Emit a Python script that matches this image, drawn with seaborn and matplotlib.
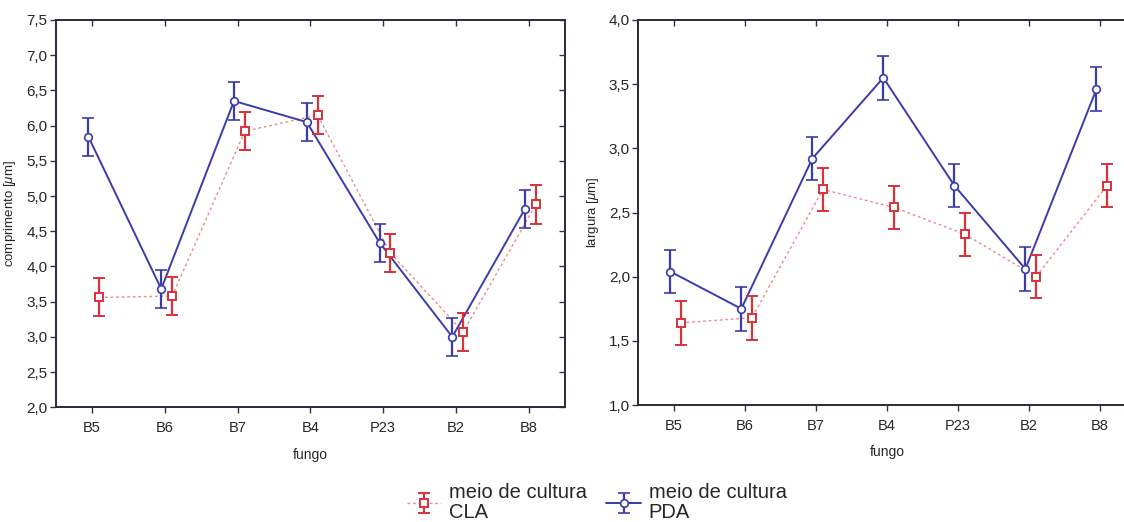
import numpy as np
import pandas as pd
import seaborn as sns
import matplotlib
matplotlib.use("Agg")
import matplotlib.pyplot as plt
from matplotlib.ticker import FuncFormatter

# ---------------- data ----------------
fungos = ["B5", "B6", "B7", "B4", "P23", "B2", "B8"]

comp_pda = [5.84, 3.68, 6.35, 6.05, 4.34, 3.00, 4.82]
comp_pda_err = [0.27, 0.27, 0.27, 0.27, 0.27, 0.27, 0.27]
comp_cla = [3.56, 3.58, 5.92, 6.15, 4.19, 3.07, 4.88]
comp_cla_err = [0.27, 0.27, 0.27, 0.27, 0.27, 0.27, 0.27]

larg_pda = [2.04, 1.75, 2.92, 3.55, 2.71, 2.06, 3.46]
larg_pda_err = [0.17, 0.17, 0.17, 0.17, 0.17, 0.17, 0.17]
larg_cla = [1.64, 1.68, 2.68, 2.54, 2.33, 2.00, 2.71]
larg_cla_err = [0.17, 0.17, 0.17, 0.17, 0.17, 0.17, 0.17]

comp_yticks = [2.0, 2.5, 3.0, 3.5, 4.0, 4.5, 5.0, 5.5, 6.0, 6.5, 7.0, 7.5]
larg_yticks = [1.0, 1.5, 2.0, 2.5, 3.0, 3.5, 4.0]

labels = ["meio de cultura\nCLA", "meio de cultura\nPDA"]

# ---------------- style ----------------
sns.set_theme(style="white")
plt.rcParams["font.family"] = ["Liberation Sans", "DejaVu Sans"]
plt.rcParams["mathtext.fontset"] = "custom"
plt.rcParams["mathtext.it"] = "Liberation Sans:italic"
plt.rcParams["mathtext.rm"] = "Liberation Sans"

BLUE = "#3b3bab"
RED = "#d8323a"
RED_LINE = "#ee8a8a"
FRAME = "#2a2a3a"

fig = plt.figure(figsize=(11.24, 5.22), dpi=100)
ax1 = fig.add_axes([0.0496, 0.2197, 0.4531, 0.7420])
ax2 = fig.add_axes([0.5679, 0.2241, 0.4423, 0.7376])

fmt = FuncFormatter(lambda v, p: f"{v:.1f}".replace(".", ","))

handles = {}


def panel(ax, pda, pda_err, cla, cla_err, yticks, ylabel):
    pos = np.arange(1, len(fungos) + 1)
    df = pd.DataFrame({
        "x": np.concatenate([pos - 0.05, pos + 0.10]),
        "y": np.concatenate([pda, cla]),
        "meio": ["PDA"] * len(fungos) + ["CLA"] * len(fungos),
    })
    dp = df[df.meio == "PDA"]
    dc = df[df.meio == "CLA"]
    # connecting lines
    sns.lineplot(data=dp, x="x", y="y", ax=ax, color=BLUE, lw=1.4,
                 estimator=None, sort=False, zorder=3, legend=False)
    sns.lineplot(data=dc, x="x", y="y", ax=ax, color=RED_LINE, lw=1.0,
                 linestyle=(0, (2, 2)), estimator=None, sort=False,
                 zorder=2, legend=False)
    # error bars + markers
    eb_c = ax.errorbar(dc.x, dc.y, yerr=cla_err, fmt="s", ms=5.5, mfc="white",
                       mec=RED, mew=1.4, ecolor=RED, elinewidth=1.6,
                       capsize=4, capthick=1.6, zorder=4,
                       color=RED_LINE, ls=(0, (2, 2)), lw=1.0)
    eb_p = ax.errorbar(dp.x, dp.y, yerr=pda_err, fmt="o", ms=5.5, mfc="white",
                       mec=BLUE, mew=1.2, ecolor=BLUE, elinewidth=1.6,
                       capsize=4, capthick=1.6, zorder=5,
                       color=BLUE, ls="-", lw=1.4)
    eb_c[0].set_linestyle("none")
    eb_p[0].set_linestyle("none")
    handles["CLA"] = eb_c
    handles["PDA"] = eb_p

    ax.set_xlim(0.5, 7.5)
    ax.set_ylim(yticks[0], yticks[-1])
    ax.set_xticks(pos)
    ax.set_xticklabels(fungos)
    ax.set_yticks(yticks)
    ax.yaxis.set_major_formatter(fmt)
    ax.tick_params(axis="both", direction="out", length=4, width=1,
                   color="#333344", left=True, bottom=True)
    ax.tick_params(axis="x", labelsize=10.5, pad=6)
    ax.tick_params(axis="y", labelsize=11, pad=2)
    # inward ticks on top and right
    sx = ax.secondary_xaxis("top")
    sx.set_xticks(pos)
    sx.tick_params(direction="in", length=4, width=1, color="#333344",
                   labeltop=False)
    sy = ax.secondary_yaxis("right")
    sy.set_yticks(yticks)
    sy.tick_params(direction="in", length=4, width=1, color="#333344",
                   labelright=False)
    for s in list(sx.spines.values()) + list(sy.spines.values()):
        s.set_visible(False)
    for s in ax.spines.values():
        s.set_color(FRAME)
        s.set_linewidth(1.4)
    ax.set_xlabel("fungo", fontsize=10, labelpad=9)
    ax.set_ylabel(ylabel, fontsize=9.5, labelpad=6)
    ax.grid(False)


panel(ax1, comp_pda, comp_pda_err, comp_cla, comp_cla_err, comp_yticks,
      r"comprimento [$\mu$m]")
panel(ax2, larg_pda, larg_pda_err, larg_cla, larg_cla_err, larg_yticks,
      r"largura [$\mu$m]")

# legend with error-bar glyphs (line style shown in the handle)
hc = handles["CLA"]
hp = handles["PDA"]
hc[0].set_linestyle((0, (2, 2)))
hp[0].set_linestyle("-")
leg = fig.legend([hc, hp], labels, loc="lower center", ncol=2,
                 bbox_to_anchor=(0.531, -0.035), frameon=False, fontsize=14.5,
                 handlelength=1.7, columnspacing=0.95, handletextpad=0.4)
for t in leg.get_texts():
    t.set_linespacing(1.05)
fig.canvas.draw()
hc[0].set_linestyle("none")
hp[0].set_linestyle("none")

fig.savefig("out.png", dpi=100)
